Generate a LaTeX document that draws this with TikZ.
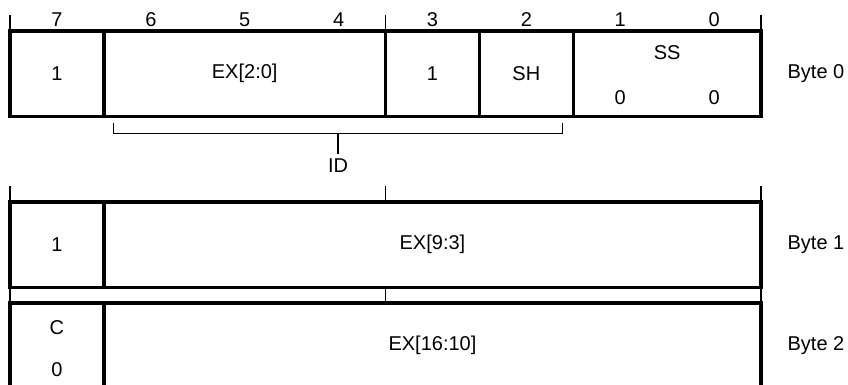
\documentclass[tikz,border=0pt]{standalone}
\usepackage{fontspec}
\setmainfont{Liberation Sans}
\usetikzlibrary{positioning}
\tikzset{
  field/.style={draw, line width=3.5pt, minimum width=#1*93.875pt, minimum height=85.5pt, inner sep=0pt, outer sep=0pt, anchor=north west},
  field/.default=1,
  bitnum/.style={inner sep=0pt},
  bytelbl/.style={anchor=west, inner sep=0pt}
}
\begin{document}
\begin{tikzpicture}[x=1pt, y=-1pt, line width=1.2pt, font=\fontsize{20}{24}\selectfont]
  \useasboundingbox (0,0) rectangle (848,385);
  \clip (0,0) rectangle (848,385);
  % byte 0
  \node[field=1] (b7) at (10,31) {1};
  \node[field=3, right=0pt of b7] (ex) {EX[2:0]};
  \node[field=1, right=0pt of ex] (b3) {1};
  \node[field=1, right=0pt of b3] (sh) {SH};
  \node[field=2, right=0pt of sh] (ss) {};
  \node[bitnum] (sslbl) at ([yshift=21pt]ss.center) {SS};
  \node[bitnum] (ss1) at ([xshift=-47pt,yshift=-24pt]ss.center) {0};
  \node[bitnum] (ss0) at ([xshift=47pt,yshift=-24pt]ss.center) {0};
  \node[bytelbl, right=26pt of ss] (y0) {Byte 0};
  \foreach \b in {0,...,7}
    \node[bitnum] (n\b) at ({10+(7.5-\b)*93.875},20) {\b};
  \draw (b7.north west) -- ++(0,-16);
  \draw (ex.north east) -- ++(0,-16);
  \draw (ss.north east) -- ++(0,-16);
  % ID bracket
  \coordinate (brk) at (338,134);
  \node[bitnum, inner sep=0pt] (id) at (338,166) {ID};
  \draw ([xshift=10pt,yshift=-7pt]ex.south west) |- ([xshift=-11pt,yshift=-17pt]sh.south east) -- ([xshift=-11pt,yshift=-7pt]sh.south east);
  \draw (brk) -- ([yshift=5pt]id.north);
  % byte 1 and byte 2
  \node[field=1] (a1) at (10,202) {1};
  \node[field=7, right=0pt of a1] (e1) {EX[9:3]};
  \node[bytelbl, right=26pt of e1] (y1) {Byte 1};
  \node[field=1] (a2) at (10,303) {};
  \node[field=7, right=0pt of a2] (e2) {EX[16:10]};
  \node[bitnum] (c2) at ([yshift=18pt]a2.center) {C};
  \node[bitnum] (c0) at ([yshift=-24pt]a2.center) {0};
  \node[bytelbl, right=26pt of e2] (y2) {Byte 2};
  \draw (a1.north west) -- ++(0,-16);
  \draw (ex.east |- e1.north) -- ++(0,-16);
  \draw (e1.north east) -- ++(0,-16);
  \draw (a1.south west) -- (a2.north west);
  \draw (ex.east |- e1.south) -- (ex.east |- e2.north);
  \draw (e1.south east) -- (e2.north east);
\end{tikzpicture}
\end{document}
